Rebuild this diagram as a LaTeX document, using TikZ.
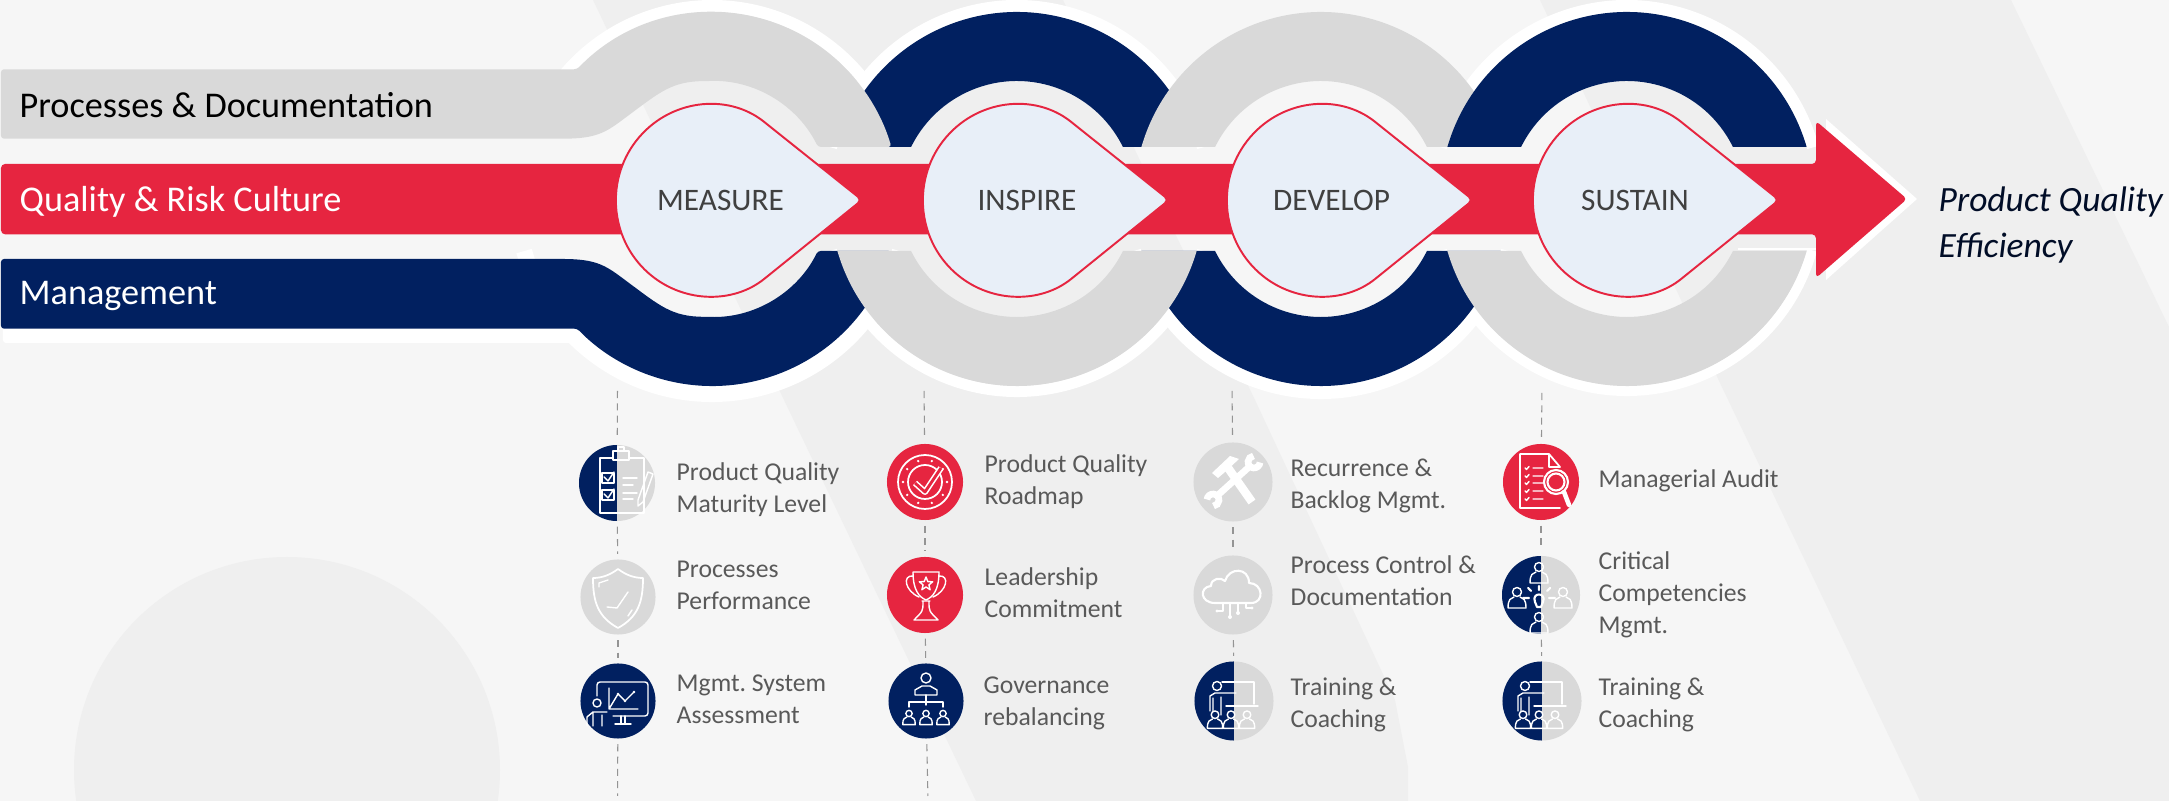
\documentclass[tikz,border=0pt]{standalone}
\usepackage{fontspec}
\setmainfont{Carlito}
\definecolor{navyc}{HTML}{012060}
\definecolor{redc}{HTML}{E62540}
\definecolor{greyc}{HTML}{D9D9D9}
\definecolor{paperc}{HTML}{F6F6F6}
\definecolor{shadec}{HTML}{EFEFEF}
\definecolor{tearc}{HTML}{E8EFF8}
\tikzset{
	ic/.style={draw=white,line width=.4pt,line cap=round,line join=round},
	halo/.style={white,line width=#1},
	tear/.style={fill=tearc,draw=redc,line width=.55pt},
	dashline/.style={draw=black!42,line width=.3pt,dash pattern=on 2pt off 1.5pt,shorten <=.05cm,shorten >=.05cm},
	icon/.style={circle,minimum size=.76cm,inner sep=0pt},
	halficon/.style={icon,fill=greyc,path picture={\fill[navyc] (path picture bounding box.south west) rectangle (path picture bounding box.north);}},
	bandlabel/.style={anchor=west,inner sep=0pt,font=\fontsize{10.3}{12}\selectfont},
	steplabel/.style={inner sep=0pt,text=black!75,font=\fontsize{8.9}{10}\selectfont},
	itemlabel/.style={anchor=west,inner sep=0pt,align=left,text=black!65,font=\fontsize{7.3}{9.07}\selectfont},
	person/.pic={
		\draw[ic] (0,-5) circle (4.5);
		\draw[ic] (-9,11) .. controls (-9,2) and (-6,1) .. (-3,0) (3,0) .. controls (6,1) and (9,2) .. (9,11) -- (-9,11);
	},
	clipboard/.pic={
		\draw[ic] (-4,-25) -- (-17,-25) -- (-17,30) -- (27,30) -- (27,-25) -- (12,-25);
		\draw[ic] (-4,-32) rectangle (12,-23) (1,-32) -- (1,-36) -- (7,-36) -- (7,-32);
		\draw[ic] (-15,-10) rectangle (-3,0) (-15,7) rectangle (-3,17);
		\draw[ic] (-13,-6) -- (-9,-2) -- (-3,-11) (-13,11) -- (-9,15) -- (-3,6);
		\draw[ic] (6,-5) -- (20,-5) (6,2) -- (16,2) (6,10) -- (20,10) (6,16) -- (16,16);
		\draw[ic] (21,17) -- (31,-11) -- (36,-9) -- (26,19) -- (21,23) -- cycle;
	},
	shield/.pic={
		\draw[ic,line width=.5pt] (0,-28) .. controls (-8,-22) and (-16,-19) .. (-25,-19) .. controls (-25,5) and (-20,20) .. (0,31) .. controls (20,20) and (25,5) .. (25,-19) .. controls (16,-19) and (8,-22) .. (0,-28) -- cycle;
		\draw[ic] (-11,10) -- (-1,11) -- (10,-5) (-19,-10) -- (-19,-14) -- (-10,-17) (10,19) -- (14,13);
	},
	chartboard/.pic={
		\draw[ic,rounded corners=.3mm] (-21,-5) -- (-21,-19) -- (30,-19) -- (30,15) -- (-5,15);
		\draw[ic] (-9,-13) -- (-9,8) -- (20,8) (0,-7) -- (-9,8) (0,-7) -- (7,0) -- (16,-9);
		\fill[white] (0,-7) circle (1.3) (7,0) circle (1.3) (16,-9) circle (1.3);
		\draw[ic] (-21,2) circle (4) (-31,25) -- (-31,16) -- (-25,11) -- (-11,11) (-25,11) -- (-25,25) (-16,14) -- (-16,25);
		\draw[ic] (3,15) -- (3,22) (7,15) -- (7,22) (-3,23) -- (13,23);
	},
	badge/.pic={
		\draw[ic,line width=.5pt] (0,0) circle (27) (0,0) circle (17);
		\foreach \a in {0,36,...,324} \fill[white] (\a:22) circle (1.3);
		\draw[white,line width=1.7pt,line join=round] (-10,1) -- (0,10) -- (16,-14);
		\draw[redc,line width=.8pt,line join=round] (-10,1) -- (0,10) -- (16,-14);
	},
	trophy/.pic={
		\draw[ic] (-12,-23) -- (14,-23) .. controls (14,-5) and (8,2) .. (1,5) .. controls (-6,2) and (-12,-5) .. (-12,-23);
		\draw[ic] (-12,-19) .. controls (-23,-20) and (-20,-4) .. (-6,2) (14,-19) .. controls (25,-20) and (22,-4) .. (8,2);
		\draw[ic] (-2,7) .. controls (-2,16) .. (-11,25) -- (13,25) .. controls (4,16) .. (4,7) (-3,6) -- (5,6);
		\draw[ic] (1,-18) -- (2.8,-13.4) -- (7.7,-13.2) -- (3.9,-10.1) -- (5.1,-5.3) -- (1,-8) -- (-3.1,-5.3) -- (-1.9,-10.1) -- (-5.7,-13.2) -- (-.8,-13.4) -- cycle;
	},
	hierarchy/.pic={
		\draw[ic] (0,-23) circle (5) (-11,-6) -- (-11,-11) -- (-4,-15) -- (4,-15) -- (11,-11) -- (11,-6) -- cycle;
		\draw[ic] (0,-6) -- (0,4) (-17,6) -- (-17,1) -- (17,1) -- (17,6);
		\foreach \x in {-17,0,17} \pic at (\x,16) [scale=.7] {person};
	},
	tools/.pic={
		\draw[white,line width=1.9pt] (-15,13) -- (16,-15) (27,-19.5) arc (5:265:6) (-26,17.5) arc (185:445:6);
		\draw[white,line width=2.4pt] (19,20) -- (-7,-17);
		\fill[white] (-21,-9) -- (-3,-26) -- (6,-23) -- (-8,-10) -- (-15,-4) -- cycle;
	},
	cloud/.pic={
		\draw[ic,line width=.6pt] (-18,8) .. controls (-33,8) and (-34,-8) .. (-22,-9) .. controls (-22,-17) and (-12,-18) .. (-8,-14) .. controls (-4,-28) and (16,-28) .. (16,-12) .. controls (30,-12) and (32,8) .. (18,8) -- cycle;
		\draw[ic] (-10,8) -- (-10,16) -- (-16,16) (-3,8) -- (-3,21) (5,8) -- (5,17) (13,8) -- (13,13) -- (19,13);
		\fill[white] (-16,16) circle (1.6) (-3,22) circle (2) (5,18) circle (2) (19,13) circle (1.6);
	},
	trainer/.pic={
		\draw[ic] (-17,-15) circle (4.5) (-24,10) -- (-24,-5) -- (-19,-8) -- (2,-8) (-13,-4) -- (-13,14) (-21,-3) -- (-21,10);
		\draw[ic] (-12,-19) -- (20,-19) -- (20,3) (-8,5) -- (24,5);
		\foreach \x in {-19,-3,13} \pic at (\x,18) [scale=.85] {person};
	},
	audit/.pic={
		\draw[ic,line width=.5pt] (8,-28) -- (-21,-28) -- (-21,26) -- (19,26) (8,-28) -- (19,-15) -- (8,-15) -- cycle;
		\foreach \y in {-14,-6,1,9,17} \draw[ic] (-16,\y) -- (-14.5,\y+1.5) -- (-12,\y-1.5) (-8,\y) -- (2,\y);
		\fill[redc] (15,0) circle (12);
		\draw[ic,line width=.6pt] (15,0) circle (12) (15,0) circle (8.5);
		\draw[white,line width=1.3pt,line cap=round] (23,10) -- (28,23);
	},
	bulb/.pic={
		\draw[ic,line width=.6pt] (-4,4) .. controls (-8,-6) and (8,-6) .. (4,4) -- (2,9) -- (-2,9) -- cycle;
		\draw[ic,line width=.6pt] (-10,0) -- (-16,0) (10,0) -- (16,0) (0,-8) -- (0,-12) (-8,-7) -- (-11,-10) (8,-7) -- (11,-10);
	},
}
\begin{document}
\begin{tikzpicture}[x=.01cm,y=-.01cm]
	\useasboundingbox (0,0) rectangle (2169,801);
	\clip (0,0) rectangle (2169,801);
	% backdrop
	\fill[paperc] (0,0) rectangle (2169,801);
	\fill[shadec] (593,0) -- (1063,0) -- (1255,400) -- (1395,700) -- (1408,767) -- (1408,801) -- (976,801) -- (784,400) -- cycle;
	\fill[shadec] (1540,0) -- (2011,0) -- (2169,327) -- (2169,801) -- (1920,801) -- (1720,383) -- cycle;
	\fill[shadec] (287,770) circle (213);
	% halos under the rings
	\draw[halo=.12cm] (712,199) ++(-140:193) arc (-140:-20:193);
	\foreach \c in {1017,1627} \draw[halo=.12cm] (\c,199) ++(-164.5:193) arc (-164.5:-15.5:193);
	\foreach \c/\r/\w in {712/195/.16cm,1017/192.5/.11cm,1321/193.5/.13cm,1627/192/.10cm}
		\draw[halo=\w] (\c,199) ++(164.5:\r) arc (164.5:15.5:\r);
	\fill[white,rounded corners=.3mm] (3,300) rectangle (578,343);
	% upper arcs
	\fill[navyc] (837.4,147) arc (-163.85:-16.15:187) -- (1122.9,147) arc (-26.15:-153.85:118) -- cycle;
	\fill[greyc,rounded corners=.3mm] (1,69.3) -- (577,69.3) arc (-136.1:-16.15:187) -- (818,147) arc (-26.15:-92.4:118) .. controls (672,81.2) and (660,92) .. (625,118) .. controls (605,133) and (595,138.7) .. (560,138.7) -- (1,138.7) -- cycle;
	\foreach \c/\g in {1321/greyc,1627/navyc}
		\fill[\g] ({\c-179.6},147) arc (-163.85:-16.15:187) -- ({\c+105.9},147) arc (-26.15:-153.85:118) -- cycle;
	% lower arcs
	\fill[navyc,rounded corners=.3mm] (1,259) -- (560,259) .. controls (595,259) and (605,265) .. (625,280) .. controls (660,306) and (672,316.8) .. (707,316.8) arc (92.4:26.15:118) -- (891.6,251) arc (16.15:136.1:187) -- (1,328.7) -- cycle;
	\fill[navyc] (1141.4,251) arc (163.85:16.15:187) -- (1426.9,251) arc (26.15:153.85:118) -- cycle;
	\foreach \c in {1017,1627}
		\fill[greyc] ({\c-179.6},251) arc (163.85:16.15:187) -- ({\c+105.9},251) arc (26.15:153.85:118) -- cycle;
	\fill[white] (1738,248.5) rectangle (1816,250.5);
	% arrow band
	\fill[white] (1826,119) -- (1917,199) -- (1826,280) -- cycle;
	\fill[redc,rounded corners=.4mm] (1,164) -- (1816,164) -- (1816,121) -- (1907,199) -- (1816,278) -- (1816,234.3) -- (1,234.3) -- cycle;
	% teardrops
	\foreach \c/\n/\x/\t in {710/measure/720.5/MEASURE,1017/inspire/1027/INSPIRE,1321/develop/1331.5/DEVELOP,1627/sustain/1635/SUSTAIN} {
		\draw[tear,rounded corners=.5mm] ({\c+58},125) arc (-51.8:-308.2:94 and 96) -- ({\c+152},200) -- cycle;
		\node[steplabel] (\n) at (\x,200) {\t};
	}
	% band and outcome texts
	\node[bandlabel] (processes) at (19,105) {Processes \& Documentation};
	\node[bandlabel,text=white] (culture) at (19,201.5) {Quality \& Risk Culture};
	\node[bandlabel,text=white] (management) at (19,296) {Management};
	\node[anchor=west,inner sep=0pt,align=left,text=navyc!40!black,font=\fontsize{10.1}{13}\selectfont\itshape] (outcome) at (1938,225) {Product Quality\\Efficiency};
	% icon discs
	\node[halficon,minimum size=.76cm] (m1) at (617,483) {};
	\node[icon,fill=greyc,minimum size=.75cm] (m2) at (618,597) {};
	\node[icon,fill=navyc,minimum size=.75cm] (m3) at (618,701) {};
	\node[icon,fill=redc] (i1) at (925,482) {};
	\node[icon,fill=redc] (i2) at (925,595) {};
	\node[icon,fill=navyc,minimum size=.75cm] (i3) at (926,701) {};
	\node[icon,fill=greyc,minimum size=.79cm] (d1) at (1233,482) {};
	\node[icon,fill=greyc,minimum size=.79cm] (d2) at (1233,595) {};
	\node[halficon,minimum size=.79cm] (d3) at (1234,701) {};
	\node[icon,fill=redc] (s1) at (1541,482) {};
	\node[halficon,minimum size=.78cm] (s2) at (1541,595) {};
	\node[halficon,minimum size=.79cm] (s3) at (1542,701) {};
	% icon drawings
	\pic at (617,483) {clipboard};
	\pic at (618,597) {shield};
	\pic at (618,701) {chartboard};
	\pic at (925,482) {badge};
	\pic at (925,595) {trophy};
	\pic at (926,701) {hierarchy};
	\pic at (1233,482) {tools};
	\pic at (1233,595) {cloud};
	\pic at (1234,701) {trainer};
	\pic at (1541,482) {audit};
	\pic at (1517,597) {person};
	\pic at (1563,597) {person};
	\pic at (1539,572) {person};
	\pic at (1539,622) {person};
	\pic at (1539,598) {bulb};
	\pic at (1542,701) {trainer};
	% dashed connectors
	\path
	(617.5,386) coordinate (mtop)
	(617.5,801) coordinate (mend)
	(924,386) coordinate (itop)
	(928,801) coordinate (iend)
	(1232,386) coordinate (dtop)
	(1542,388) coordinate (stop);
	\foreach \p/\q in {mtop/m1,m1/m2,m2/m3,m3/mend,itop/i1,i1/i2,i2/i3,i3/iend,dtop/d1,d1/d2,d2/d3,stop/s1,s1/s2,s2/s3}
		\draw[dashline] (\p) -- (\q);
	% item texts
	\node[itemlabel] (mtext1) at (676,489.5) {Product Quality\\Maturity Level};
	\node[itemlabel] (mtext2) at (676,585) {Processes\\Performance};
	\node[itemlabel] (mtext3) at (676,699) {Mgmt.\ System\\Assessment};
	\node[itemlabel] (itext1) at (984,481.5) {Product Quality\\Roadmap};
	\node[itemlabel] (itext2) at (984,593) {Leadership\\Commitment};
	\node[itemlabel] (itext3) at (983,703) {Governance\\rebalancing};
	\node[itemlabel] (dtext1) at (1290,486) {Recurrence \&\\Backlog Mgmt.};
	\node[itemlabel] (dtext2) at (1290,581) {Process Control \&\\Documentation};
	\node[itemlabel] (dtext3) at (1290,705) {Training \&\\Coaching};
	\node[itemlabel] (stext1) at (1598,481) {Managerial Audit};
	\node[itemlabel] (stext2) at (1598,594.5) {Critical\\Competencies\\Mgmt.};
	\node[itemlabel] (stext3) at (1598,705) {Training \&\\Coaching};
\end{tikzpicture}
\end{document}
